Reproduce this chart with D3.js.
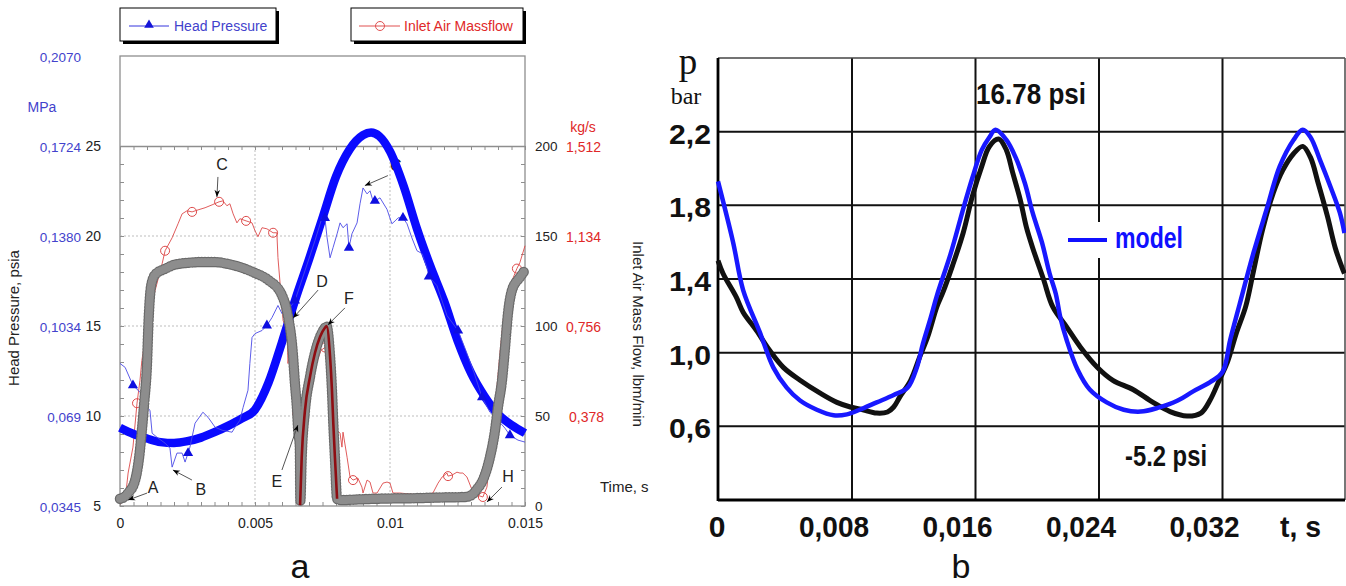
<!DOCTYPE html>
<html><head><meta charset="utf-8">
<script src="https://cdn.jsdelivr.net/npm/d3@7"></script>
<style>
body{margin:0;background:#fff;}
svg{display:block;font-family:"Liberation Sans",Arial,Helvetica,sans-serif;}
</style></head><body>
<svg id="fig" width="1346" height="586"></svg>
<script>
// ---------- panel a : head pressure and inlet air mass flow ----------
const psiaTicks = [5, 10, 15, 20, 25];
const mpaValues = [5, 10, 15, 20, 25, 30];
const mpaLabels = ["0,0345", "0,069", "0,1034", "0,1380", "0,1724", "0,2070"];
const flowTicks = [0, 50, 100, 150, 200];
const kgsValues = [50, 100, 150, 200];
const kgsLabels = ["0,378", "0,756", "1,134", "1,512"];
const timeTicksA = [0, 0.005, 0.01, 0.015];
const timeLabelsA = ["0", "0.005", "0.01", "0.015"];

// model head pressure, psia
const headModel = [[0,9.35],[0.0005,9.0],[0.001,8.75],[0.0015,8.55],[0.002,8.5],[0.0025,8.6],[0.003,8.8],
  [0.0035,9.1],[0.004,9.45],[0.0045,9.85],[0.005,10.35],[0.0055,11.85],[0.006,14.1],[0.0065,16.5],[0.007,18.7],
  [0.0075,21.0],[0.008,23.3],[0.0085,24.8],[0.009,25.6],[0.0093,25.75],[0.0096,25.55],[0.01,24.7],[0.0105,22.8],
  [0.011,20.4],[0.0115,18.3],[0.012,16.4],[0.0125,14.2],[0.013,12.4],[0.0135,11.1],[0.014,10.1],[0.0145,9.5],[0.015,9.05]];

// measured head pressure, psia (third value 1 = marker drawn)
const headMeasured = [[0,12.92],[0.00019,12.7],[0.00048,11.7,1],[0.00067,11.43],[0.00085,11.15],[0.001,10.48],
  [0.00111,10.32],[0.00119,9.04],[0.00137,8.82],[0.00167,8.49],[0.00185,8.21],[0.00193,7.16],[0.00211,7.94],
  [0.0023,7.94],[0.00241,7.44],[0.00252,7.94,1],[0.00259,8.27],[0.00278,9.6],[0.00307,10.21],[0.00326,9.93],
  [0.00352,9.38],[0.00378,9.21],[0.00415,9.1],[0.00426,9.38],[0.00444,9.76],[0.00456,10.48],[0.00474,11.43],
  [0.00481,12.92],[0.00489,14.36],[0.005,14.58],[0.00526,14.75],[0.00544,15.03,1],[0.00563,15.47],[0.00585,16.14],
  [0.006,15.69],[0.00611,16.03],[0.00622,15.86],[0.00648,16.41,1],[0.00685,18.07],[0.00722,19.74],[0.00748,21.01],
  [0.00759,21.0,1],[0.00767,19.9],[0.00778,18.79],[0.00789,19.35],[0.00804,20.12],[0.00815,20.73],[0.00826,20.46],
  [0.00841,20.68],[0.00848,19.35,1],[0.00859,20.12],[0.00878,20.73],[0.00889,21.79],[0.009,22.67],[0.00915,22.34],
  [0.00926,22.51],[0.00937,21.95],[0.00944,21.95,1],[0.00963,22.12],[0.00989,21.48],[0.01007,20.68],[0.01019,20.84],
  [0.0103,21.01],[0.01048,21.01,1],[0.01063,20.68],[0.01081,19.9],[0.011,19.18],[0.01119,19.02],[0.01137,18.24],
  [0.01144,17.74,1],[0.01174,17.24],[0.01211,15.58],[0.01252,14.75,1],[0.01281,13.64],[0.01311,12.42],
  [0.01341,11.04,1],[0.0137,10.21],[0.014,9.76],[0.01426,9.32],[0.01444,8.93,1],[0.01474,8.66],[0.015,8.55]];

// model inlet air mass flow, lbm/min
const flowModel = [[0,4.0],[0.0002,5.5],[0.0003,7.2],[0.00056,14.4],[0.0007,26],[0.00081,42],[0.0009,58],[0.001,79],
  [0.00105,100],[0.00115,122],[0.0013,128.5],[0.0017,132],[0.002,134],[0.003,135.5],[0.0035,135.5],[0.004,134.5],
  [0.0045,132.5],[0.005,129.5],[0.0055,125.5],[0.006,117],[0.0062,107],[0.0064,85],[0.00648,68],[0.00655,55],
  [0.0066,42],[0.00666,33],[0.00668,3],[0.00673,27],[0.00685,53],[0.00704,72],[0.00722,85],[0.00741,94],
  [0.00759,99],[0.00765,100],[0.00778,83],[0.00785,64.5],[0.0079,46],[0.00796,27],[0.00804,4],[0.0082,3.3],
  [0.009,3.8],[0.01,4.2],[0.011,4.4],[0.012,4.8],[0.0128,5.0],[0.0131,7.0],[0.0132,9.0],[0.01344,14.4],[0.0137,27],
  [0.01389,42],[0.014,55],[0.01415,70],[0.01426,88],[0.01437,107],[0.01452,120],[0.01481,127],[0.015,131]];

// flow pulse between E and F
const flowPulse = [[0.00667,0.5],[0.00673,27],[0.00685,53],[0.00704,72],[0.00722,85],[0.00741,94],[0.00759,99],
  [0.00765,100],[0.00778,83],[0.00785,64.5],[0.0079,46],[0.00796,27],[0.00804,4]];

// measured inlet air mass flow, lbm/min (third value 1 = marker drawn)
const flowMeasured = [[0,1.1],[0.00019,3.3],[0.0003,18.3],[0.00048,32.7],[0.00063,57.1,1],[0.00074,69.8],[0.00081,80.9],
  [0.00104,103],[0.0013,119.7],[0.00156,134.6],[0.00167,141.8,1],[0.00193,149],[0.00215,156.8],[0.0023,162.3],
  [0.00248,164],[0.00267,163.4,1],[0.00289,164.5],[0.00315,165.7],[0.00341,167.3],[0.00367,169,1],[0.00381,169.5],
  [0.00396,166.8],[0.00407,167.9],[0.00419,162.3],[0.00433,157.3],[0.00444,159.6],[0.00467,158.4,1],[0.00489,157.3],
  [0.005,152.9],[0.00511,149.6],[0.00526,154.6],[0.00544,154],[0.00567,151.8,1],[0.00581,151.8],[0.00585,138],
  [0.00593,123.5],[0.00604,103],[0.00619,97.5],[0.00622,79.2],[0.0063,86.4],[0.00641,69.8],[0.00656,51.5,1],
  [0.00667,36.6],[0.00685,47.6],[0.00704,64.3],[0.00726,78.1],[0.00744,86.4],[0.00759,88.1,1],[0.0077,80.9],
  [0.00781,61.5],[0.00793,36.6],[0.00804,42.1],[0.00815,40.4],[0.00822,32.7],[0.00826,41],[0.00841,27.1],
  [0.00852,16.1],[0.00863,14.4,1],[0.00881,15.5],[0.00896,10.5],[0.009,7.2],[0.00915,14.4],[0.00926,13.3],
  [0.00937,7.2],[0.00952,7.2],[0.00974,12.7],[0.00989,13.3],[0.01,12.7],[0.01011,7.2],[0.01037,7.2],[0.01111,6.1],
  [0.01159,7.2],[0.01178,12.7],[0.01193,16.1],[0.01211,18.3],[0.01215,16.6,1],[0.0123,17.2],[0.01248,18.8],
  [0.01259,18.3],[0.0127,18.3],[0.01285,16.1],[0.01304,8.9],[0.01322,6.1],[0.01344,5.0,1],[0.01359,10.5],
  [0.0137,25.5],[0.01381,46],[0.01396,65.9],[0.01407,84.8],[0.01419,103],[0.01433,114.1],[0.01452,125.2],
  [0.0147,131.9,1],[0.01481,135.2],[0.015,144.6]];

// annotated points: [label, time, value, axis]
const notes = [["A",0.0003,3.3,"flow"],["B",0.00196,7.0,"head"],["C",0.00359,171.7,"flow"],["C",0.00907,22.8,"head"],
  ["D",0.00641,104.4,"flow"],["E",0.00659,45.0,"flow"],["F",0.0077,100.6,"flow"],["H",0.01359,2.2,"flow"]];

// ---------- panel b : pressure, model vs measurement ----------
const timeTicksB = [0, 0.008, 0.016, 0.024, 0.032];
const timeLabelsB = ["0", "0,008", "0,016", "0,024", "0,032"];
const pTicks = [0.6, 1.0, 1.4, 1.8, 2.2];
const pLabels = ["0,6", "1,0", "1,4", "1,8", "2,2"];

const pMeasured = [[0,1.50],[0.0003,1.43],[0.0011,1.30],[0.0015,1.22],[0.0023,1.12],[0.0031,1.01],[0.0039,0.92],
  [0.0049,0.85],[0.0061,0.78],[0.0071,0.73],[0.0079,0.705],[0.0087,0.69],[0.0096,0.672],[0.0103,0.678],[0.0107,0.705],
  [0.0111,0.76],[0.0118,0.85],[0.0124,0.98],[0.0129,1.085],[0.0135,1.25],[0.0139,1.33],[0.0145,1.47],[0.0152,1.65],
  [0.0158,1.85],[0.0164,2.01],[0.0169,2.12],[0.0175,2.16],[0.018,2.10],[0.0184,1.98],[0.0189,1.83],[0.0193,1.68],
  [0.0197,1.57],[0.0204,1.40],[0.021,1.25],[0.0219,1.14],[0.0228,1.03],[0.0239,0.92],[0.0249,0.85],[0.0262,0.80],
  [0.0275,0.73],[0.0286,0.68],[0.0297,0.656],[0.0306,0.672],[0.0312,0.743],[0.0318,0.852],[0.0323,0.944],
  [0.0329,1.107],[0.0335,1.25],[0.034,1.44],[0.0346,1.67],[0.0353,1.87],[0.0359,1.99],[0.0366,2.08],[0.0372,2.12],
  [0.0377,2.06],[0.0382,1.92],[0.0388,1.74],[0.0393,1.57],[0.0398,1.45],[0.0399,1.43]];

const pModel = [[0,1.93],[0.0009,1.60],[0.0015,1.34],[0.0025,1.11],[0.0033,0.92],[0.0041,0.81],[0.0049,0.74],
  [0.0059,0.69],[0.0069,0.66],[0.0077,0.665],[0.0085,0.69],[0.0096,0.73],[0.0107,0.77],[0.0116,0.81],[0.0122,0.92],
  [0.0126,1.05],[0.0131,1.19],[0.0135,1.31],[0.0144,1.54],[0.0152,1.78],[0.0158,1.95],[0.0164,2.10],[0.0169,2.17],
  [0.0173,2.21],[0.018,2.155],[0.0186,2.06],[0.0192,1.92],[0.0197,1.76],[0.0203,1.60],[0.0208,1.43],[0.0212,1.32],
  [0.0215,1.19],[0.0219,1.07],[0.0226,0.91],[0.0234,0.80],[0.0245,0.73],[0.0256,0.69],[0.0267,0.68],[0.0278,0.70],
  [0.0291,0.74],[0.0301,0.79],[0.0312,0.84],[0.032,0.895],[0.0325,1.07],[0.0331,1.26],[0.034,1.54],[0.0349,1.79],
  [0.0357,2.01],[0.0366,2.155],[0.0372,2.21],[0.0377,2.17],[0.0383,2.05],[0.039,1.90],[0.0396,1.76],[0.0399,1.65]];

const svg = d3.select("#fig");
const defs = svg.append("defs");
defs.append("marker").attr("id", "arrowHead").attr("viewBox", "0 0 10 10")
  .attr("refX", 10).attr("refY", 5).attr("markerWidth", 10).attr("markerHeight", 7)
  .attr("markerUnits", "userSpaceOnUse").attr("orient", "auto")
  .append("path").attr("d", "M0,1 L10,5 L0,9 L3,5 Z").attr("fill", "#000");

// ================= panel a =================
const A = svg.append("g");
const xA = d3.scaleLinear().domain([0, 0.015]).range([120, 525]);
const yHead = d3.scaleLinear().domain([5, 30]).range([506, 56]);
const yFlow = d3.scaleLinear().domain([0, 200]).range([506, yHead(25)]);
const frameCol = "#8e8e8e";
const blueTxt = "#4242cc", redTxt = "#e02828";

// legend boxes with drop shadow
function legendBox(x, y, w, h) {
  A.append("rect").attr("x", x + 3).attr("y", y + 3).attr("width", w).attr("height", h).attr("fill", "#000");
  A.append("rect").attr("x", x).attr("y", y).attr("width", w).attr("height", h).attr("fill", "#fff")
    .attr("stroke", "#000").attr("stroke-width", 1);
}
legendBox(120, 8, 156, 33);
A.append("line").attr("x1", 129).attr("x2", 169).attr("y1", 26).attr("y2", 26).attr("stroke", "#3535dd").attr("stroke-width", 1);
A.append("path").attr("d", d3.symbol(d3.symbolTriangle, 40)()).attr("transform", "translate(149,25)").attr("fill", "#1414d8");
A.append("text").attr("x", 174).attr("y", 31).attr("font-size", 14).attr("fill", blueTxt).text("Head Pressure");
legendBox(351, 8, 172, 33);
A.append("line").attr("x1", 359).attr("x2", 400).attr("y1", 26).attr("y2", 26).attr("stroke", "#e05050").attr("stroke-width", 1);
A.append("circle").attr("cx", 380).attr("cy", 26).attr("r", 4.5).attr("fill", "none").attr("stroke", "#e05050");
A.append("text").attr("x", 404).attr("y", 31).attr("font-size", 14).attr("fill", redTxt).text("Inlet Air Massflow");

// frame
A.append("rect").attr("x", xA(0)).attr("y", yHead(30)).attr("width", xA(0.015) - xA(0))
  .attr("height", yHead(5) - yHead(30)).attr("fill", "none").attr("stroke", frameCol).attr("stroke-width", 1.3);

// dotted grid
const gridA = A.append("g").attr("stroke", "#bdbdbd").attr("stroke-dasharray", "2,2").attr("stroke-width", 1);
[10, 15, 20].forEach(v => gridA.append("line").attr("x1", xA(0)).attr("x2", xA(0.015)).attr("y1", yHead(v)).attr("y2", yHead(v)));
[0.005, 0.01].forEach(v => gridA.append("line").attr("x1", xA(v)).attr("x2", xA(v)).attr("y1", yHead(25)).attr("y2", yHead(5)));

// tick marks
const tTicks = d3.range(31).map(i => i * 0.0005);
function styleTicks(g) { g.selectAll("line").attr("stroke", frameCol); g.selectAll("path").attr("stroke", frameCol).attr("stroke-width", 1.3); }
A.append("g").attr("transform", `translate(${xA(0)},0)`)
  .call(d3.axisRight(yHead).tickValues(d3.range(5, 25.5, 1)).tickSize(4).tickSizeOuter(0).tickFormat(""))
  .call(g => g.select(".domain").remove()).call(styleTicks);
A.append("g").attr("transform", `translate(${xA(0.015)},0)`)
  .call(d3.axisLeft(yFlow).tickValues(d3.range(0, 201, 10)).tickSize(4).tickSizeOuter(0).tickFormat(""))
  .call(g => g.select(".domain").remove()).call(styleTicks);
A.append("g").attr("transform", `translate(0,${yHead(25)})`)
  .call(d3.axisBottom(xA).tickValues(tTicks).tickSize(4).tickSizeOuter(0).tickFormat("")).call(styleTicks);
A.append("g").attr("transform", `translate(0,${yHead(5)})`)
  .call(d3.axisTop(xA).tickValues(tTicks).tickSize(4).tickSizeOuter(0).tickFormat(""))
  .call(g => g.select(".domain").remove()).call(styleTicks);

// tick labels
function plainLabels(g, size) { g.select(".domain").remove(); g.selectAll("text").attr("font-size", size).attr("font-family", null).attr("fill", "#222"); }
A.append("g").attr("transform", `translate(${xA(0)},0)`)
  .call(d3.axisLeft(yHead).tickValues(psiaTicks).tickSize(0).tickPadding(19)).call(g => plainLabels(g, 14));
A.append("g").attr("transform", `translate(${xA(0.015)},0)`)
  .call(d3.axisRight(yFlow).tickValues(flowTicks).tickSize(0).tickPadding(10)).call(g => plainLabels(g, 13.5));
A.append("g").attr("transform", `translate(0,${yHead(5)})`)
  .call(d3.axisBottom(xA).tickValues(timeTicksA).tickFormat((d, i) => timeLabelsA[i]).tickSize(0).tickPadding(12))
  .call(g => plainLabels(g, 14));

A.selectAll(".mpa").data(mpaValues).enter().append("text").attr("class", "mpa")
  .attr("x", 81).attr("y", d => yHead(d) + 6).attr("text-anchor", "end").attr("font-size", 13.5)
  .attr("fill", blueTxt).text((d, i) => mpaLabels[i]);
A.append("text").attr("x", 42).attr("y", 112).attr("text-anchor", "middle").attr("font-size", 14).attr("fill", blueTxt).text("MPa");
A.selectAll(".kgs").data(kgsValues).enter().append("text").attr("class", "kgs")
  .attr("x", d => d === 50 ? 569 : 566).attr("y", d => yFlow(d) + 6).attr("font-size", 14)
  .attr("fill", redTxt).text((d, i) => kgsLabels[i]);
A.append("text").attr("x", 583).attr("y", 132).attr("text-anchor", "middle").attr("font-size", 14).attr("fill", redTxt).text("kg/s");
A.append("text").attr("transform", "translate(19,318) rotate(-90)").attr("text-anchor", "middle")
  .attr("font-size", 15).attr("fill", "#222").text("Head Pressure, psia");
A.append("text").attr("transform", "translate(633,334) rotate(90)").attr("text-anchor", "middle")
  .attr("font-size", 15).attr("fill", "#222").text("Inlet Air Mass Flow, lbm/min");
A.append("text").attr("x", 600).attr("y", 492).attr("font-size", 15).attr("fill", "#222").text("Time, s");
A.append("text").attr("x", 300).attr("y", 578).attr("text-anchor", "middle").attr("font-size", 34).attr("fill", "#111").text("a");

// annotation arrows
const noteLayout = { // label offset and arrow start offset from the tip, px
  0: [25, -13, 19, -7], 1: [28, 19, 19, 10], 2: [5, -32, 1, -20], 3: [31, -20, 23, -10],
  4: [29, -37, 25, -28], 5: [-21, 56, -16, 45], 6: [21, -26, 17, -17], 7: [21, -26, 15, -15]
};
function drawNote(i) {
  const [lab, t, v, axis] = notes[i];
  const px = xA(t), py = axis === "flow" ? yFlow(v) : yHead(v);
  const [lx, ly, sx, sy] = noteLayout[i];
  A.append("line").attr("x1", px + sx).attr("y1", py + sy).attr("x2", px).attr("y2", py)
    .attr("stroke", "#555").attr("stroke-width", 1).attr("marker-end", "url(#arrowHead)");
  A.append("text").attr("x", px + lx).attr("y", py + ly + 5.5).attr("text-anchor", "middle")
    .attr("font-size", 16).attr("fill", "#222").text(lab);
}
drawNote(3); // sits behind the model pressure curve

// measured mass flow
const lineA = (yS) => d3.line().x(d => xA(d[0])).y(d => yS(d[1]));
A.append("path").datum(flowMeasured).attr("d", lineA(yFlow)).attr("fill", "none").attr("stroke", "#dd4a4a").attr("stroke-width", 0.9);
A.selectAll(".fm").data(flowMeasured.filter(d => d[2])).enter().append("circle").attr("class", "fm")
  .attr("cx", d => xA(d[0])).attr("cy", d => yFlow(d[1])).attr("r", 4.5).attr("fill", "none")
  .attr("stroke", "#dd4a4a").attr("stroke-width", 1);

// model head pressure (thick)
A.append("path").datum(headModel).attr("d", lineA(yHead).curve(d3.curveMonotoneX)).attr("fill", "none")
  .attr("stroke", "#0a0aff").attr("stroke-width", 8.5);

// measured head pressure
A.append("path").datum(headMeasured).attr("d", lineA(yHead)).attr("fill", "none").attr("stroke", "#4a4ae6").attr("stroke-width", 0.9);
A.selectAll(".hm").data(headMeasured.filter(d => d[2])).enter().append("path").attr("class", "hm")
  .attr("d", d3.symbol(d3.symbolTriangle, 45)()).attr("transform", d => `translate(${xA(d[0])},${yHead(d[1])})`)
  .attr("fill", "#0e0ee0");

// model mass flow: dense gray ring markers
const flowLine = lineA(yFlow).curve(d3.curveMonotoneX);
A.append("path").datum(flowModel).attr("d", flowLine).attr("fill", "none").attr("stroke", "#6a6a6a")
  .attr("stroke-width", 10.5).attr("stroke-linecap", "round").attr("stroke-dasharray", "0 3.2");
A.append("path").datum(flowModel).attr("d", flowLine).attr("fill", "none").attr("stroke", "#8d8d8d")
  .attr("stroke-width", 8).attr("stroke-linecap", "round").attr("stroke-dasharray", "0 3.2");

// pulse between E and F
A.append("path").datum(flowPulse).attr("d", flowLine).attr("fill", "none").attr("stroke", "#8e0d12").attr("stroke-width", 2.6);

[0, 1, 2, 4, 5, 6, 7].forEach(drawNote);

// ================= panel b =================
const B = svg.append("g");
const xB = d3.scaleLinear().domain([0, 0.008, 0.04]).range([718, 852, 1346]);
const yB = d3.scaleLinear().domain([0.2, 2.6]).range([500, 58]);
const x0 = xB(0), x1 = 1345, y0 = yB(0.2), y1 = yB(2.6);

const gridB = B.append("g").attr("stroke", "#111").attr("stroke-width", 2);
pTicks.forEach(v => gridB.append("line").attr("x1", x0).attr("x2", x1).attr("y1", yB(v)).attr("y2", yB(v)));
timeTicksB.slice(1).forEach(v => gridB.append("line").attr("x1", xB(v)).attr("x2", xB(v)).attr("y1", y1).attr("y2", y0));
B.append("line").attr("x1", x0).attr("x2", x1).attr("y1", y1).attr("y2", y1).attr("stroke", "#444").attr("stroke-width", 1.6);
B.append("line").attr("x1", x1).attr("x2", x1).attr("y1", y1).attr("y2", y0).attr("stroke", "#555").attr("stroke-width", 1.6);
B.append("line").attr("x1", x0).attr("x2", x0).attr("y1", y1).attr("y2", y0 + 1).attr("stroke", "#000").attr("stroke-width", 2.8);
B.append("line").attr("x1", x0).attr("x2", x1).attr("y1", y0).attr("y2", y0).attr("stroke", "#000").attr("stroke-width", 2.8);

// legend
B.append("rect").attr("x", 1062).attr("y", 222).attr("width", 126).attr("height", 36).attr("fill", "#fff");
B.append("line").attr("x1", 1068).attr("x2", 1107).attr("y1", 240).attr("y2", 240).attr("stroke", "#1010ff").attr("stroke-width", 4);
B.append("text").attr("x", 1115).attr("y", 248).attr("font-size", 30).attr("font-weight", "bold")
  .attr("fill", "#1010ff").attr("textLength", 68).attr("lengthAdjust", "spacingAndGlyphs").text("model");

// curves
const lineB = d3.line().x(d => xB(d[0])).y(d => yB(d[1])).curve(d3.curveCatmullRom.alpha(0.5));
B.append("path").datum(pMeasured).attr("d", lineB).attr("fill", "none").attr("stroke", "#111")
  .attr("stroke-width", 5).attr("stroke-linejoin", "round");
B.append("path").datum(pModel).attr("d", lineB).attr("fill", "none").attr("stroke", "#1818ff")
  .attr("stroke-width", 4.5).attr("stroke-linejoin", "round");

// labels
B.selectAll(".yl").data(pTicks).enter().append("text").attr("class", "yl")
  .attr("x", 711).attr("y", d => yB(d) + 12).attr("text-anchor", "end").attr("font-size", 28)
  .attr("font-weight", "bold").attr("fill", "#111").attr("textLength", 42).attr("lengthAdjust", "spacingAndGlyphs")
  .text((d, i) => pLabels[i]);
B.selectAll(".xl").data(timeTicksB).enter().append("text").attr("class", "xl")
  .attr("x", d => d === 0 ? xB(d) - 1 : xB(d) + 17).attr("y", 537)
  .attr("text-anchor", d => d === 0 ? "middle" : "end").attr("font-size", 30).attr("font-weight", "bold")
  .attr("fill", "#111").each(function (d) { if (d !== 0) d3.select(this).attr("textLength", 70).attr("lengthAdjust", "spacingAndGlyphs"); })
  .text((d, i) => timeLabelsB[i]);
B.append("text").attr("x", 1280).attr("y", 537).attr("font-size", 30).attr("font-weight", "bold").attr("fill", "#111")
  .attr("textLength", 41).attr("lengthAdjust", "spacingAndGlyphs").text("t, s");
B.append("text").attr("x", 976).attr("y", 104).attr("font-size", 29).attr("font-weight", "bold").attr("fill", "#111")
  .attr("textLength", 110).attr("lengthAdjust", "spacingAndGlyphs").text("16.78 psi");
B.append("text").attr("x", 1125).attr("y", 466).attr("font-size", 29).attr("font-weight", "bold").attr("fill", "#111")
  .attr("textLength", 82).attr("lengthAdjust", "spacingAndGlyphs").text("-5.2 psi");
B.append("text").attr("x", 688).attr("y", 74).attr("text-anchor", "middle").attr("font-size", 37)
  .attr("font-family", "'Liberation Serif','Times New Roman',serif").attr("fill", "#111").text("p");
B.append("text").attr("x", 686).attr("y", 104).attr("text-anchor", "middle").attr("font-size", 24)
  .attr("font-family", "'Liberation Serif','Times New Roman',serif").attr("fill", "#111").text("bar");
B.append("text").attr("x", 961).attr("y", 578).attr("text-anchor", "middle").attr("font-size", 34).attr("fill", "#111").text("b");
</script>
</body></html>
